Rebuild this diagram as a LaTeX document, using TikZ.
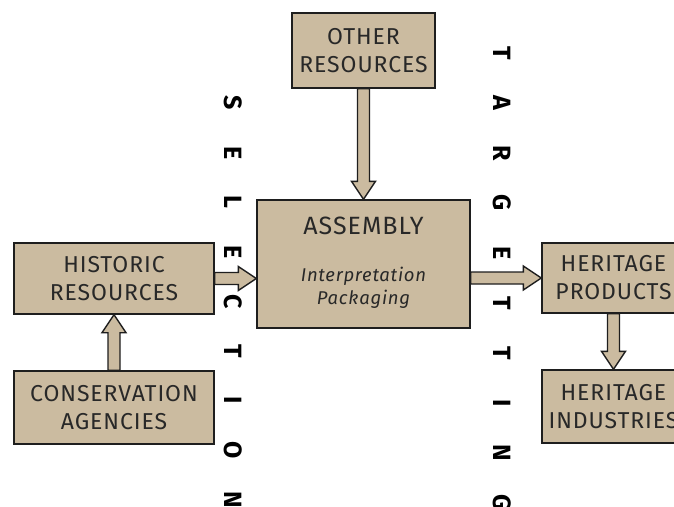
\documentclass[tikz,border=0pt]{standalone}
\usepackage{fontspec}
\setmainfont{Fira Sans}[LetterSpace=4]
\usetikzlibrary{calc}
\definecolor{tan}{RGB}{203,187,160}
\definecolor{ink}{RGB}{30,30,30}
\definecolor{txt}{RGB}{40,40,40}
\tikzset{
  box/.style={draw=ink, line width=1.4pt, fill=tan, align=center, text=txt,
    font=\fontsize{23}{28}\selectfont, inner sep=0pt},
  barrow/.style={draw=ink, line width=1.4pt, fill=tan, line join=miter},
  vlet/.style={rotate=-90, font=\bfseries\fontsize{25}{25}\selectfont, text=black, inner sep=0pt}
}
\newcommand{\subtxt}[1]{{\fontsize{18.5}{22}\selectfont\itshape #1}}
\begin{document}
\begin{tikzpicture}[x=1pt,y=1pt]
\clip (0,0) rectangle (674,-506);
\fill[white] (0,0) rectangle (674,-506);
% boxes
\node[box, minimum width=143, minimum height=75] (other) at (363.5,-50.5) {OTHER\\RESOURCES};
\node[box, minimum width=213, minimum height=128] (assembly) at (363.5,-264) {};
\node[box, draw=none, fill=none, font=\fontsize{25}{28}\selectfont, anchor=base] (asmtitle) at ($(assembly.north)+(0,-35)$) {ASSEMBLY};
\node[box, draw=none, fill=none, anchor=base] (asmsub) at ($(assembly.north)+(0,-105)$)
  {\subtxt{Interpretation}\\[-5pt]\subtxt{Packaging}};
\node[box, minimum width=200, minimum height=71] (historic) at (114,-278.5) {HISTORIC\\RESOURCES};
\node[box, minimum width=200, minimum height=73] (conservation) at (114,-407.5) {CONSERVATION\\AGENCIES};
\node[box, minimum width=143, minimum height=70] (products) at (613.5,-278) {HERITAGE\\PRODUCTS};
\node[box, minimum width=143, minimum height=73] (industries) at (613.5,-406.5) {HERITAGE\\INDUSTRIES};
% arrows
% other -> assembly (down)
\coordinate (t1) at (assembly.north);
\draw[barrow] ($(other.south)+(-6,0)$) -- ($(t1)+(-6,18)$) -- ($(t1)+(-12,18)$) -- (t1)
  -- ($(t1)+(12,18)$) -- ($(t1)+(6,18)$) -- ($(other.south)+(6,0)$) -- cycle;
% conservation -> historic (up)
\coordinate (t2) at (historic.south);
\draw[barrow] ($(conservation.north)+(-6,0)$) -- ($(t2)+(-6,-18)$) -- ($(t2)+(-12,-18)$) -- (t2)
  -- ($(t2)+(12,-18)$) -- ($(t2)+(6,-18)$) -- ($(conservation.north)+(6,0)$) -- cycle;
% historic -> assembly (right)
\coordinate (t3) at (assembly.west |- historic.east);
\draw[barrow] ($(historic.east)+(0,6)$) -- ($(t3)+(-18,6)$) -- ($(t3)+(-18,12)$) -- (t3)
  -- ($(t3)+(-18,-12)$) -- ($(t3)+(-18,-6)$) -- ($(historic.east)+(0,-6)$) -- cycle;
% assembly -> products (right)
\coordinate (s4) at (assembly.east |- products.west);
\coordinate (t4) at (products.west);
\draw[barrow] ($(s4)+(0,6)$) -- ($(t4)+(-18,6)$) -- ($(t4)+(-18,12)$) -- (t4)
  -- ($(t4)+(-18,-12)$) -- ($(t4)+(-18,-6)$) -- ($(s4)+(0,-6)$) -- cycle;
% products -> industries (down)
\coordinate (t5) at (industries.north);
\draw[barrow] ($(products.south)+(-6,0)$) -- ($(t5)+(-6,18)$) -- ($(t5)+(-12,18)$) -- (t5)
  -- ($(t5)+(12,18)$) -- ($(t5)+(6,18)$) -- ($(products.south)+(6,0)$) -- cycle;
% vertical words
\foreach \l [count=\i] in {S,E,L,E,C,T,I,O,N}
  \node[vlet] (sel\i) at (233,{-103-49.6*(\i-1)}) {\l};
\foreach \l [count=\i] in {T,A,R,G,E,T,T,I,N,G}
  \node[vlet] (tar\i) at (502,{-53-50*(\i-1)}) {\l};
\end{tikzpicture}
\end{document}
